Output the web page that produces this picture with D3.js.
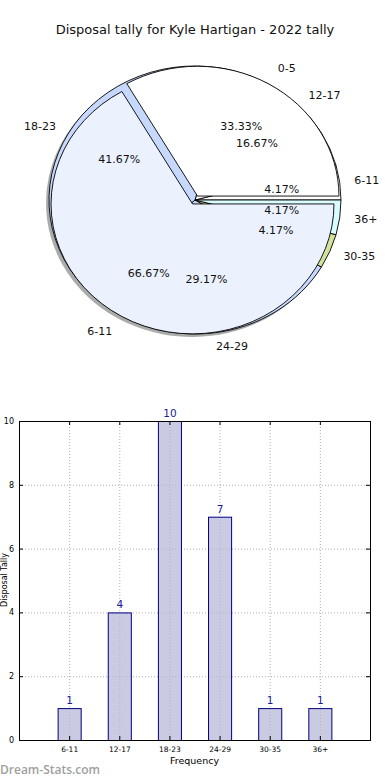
<!DOCTYPE html>
<html>
<head>
<meta charset="utf-8">
<script src="https://cdn.jsdelivr.net/npm/d3@7"></script>
<style>
  html, body { margin:0; padding:0; background:#fff; }
  svg { display:block; font-family:"DejaVu Sans", sans-serif; }
</style>
</head>
<body>
<svg id="chart" width="390" height="780"></svg>
<script>
// ---- data ----
const groups = ['6-11','12-17','18-23','24-29','30-35','36+'];
const tally  = [1, 4, 10, 7, 1, 1];
// second (overlaid) pie, as in the original image
const overLabels = ['0-5','6-11'];
const overValues = [8, 16];

const ringColors = ['#ffffff','#ffffff','#c6d9fc','#c6d9fc','#d3e29b','#d9fcfc'];
const overColors = ['#ffffff','#ebf1fd'];

const svg = d3.select('#chart');

svg.append('text')
  .attr('x', 195).attr('y', 34)
  .attr('text-anchor','middle')
  .attr('font-size', 13)
  .attr('fill', '#111')
  .text('Disposal tally for Kyle Hartigan - 2022 tally');

/* ---------- pie ---------- */
const cx = 195, cy = 200, rx = 146, ry = 134;
const pie = d3.pie().sort(null)
  .startAngle(Math.PI/2).endAngle(Math.PI/2 - 2*Math.PI); // ccw from east

const fmt = v => v.toFixed(2) + '%';

function drawPie(values, labels, colors, radius, explode, shadow){
  const total = d3.sum(values);
  const arcs = pie(values);
  const arc = d3.arc().innerRadius(0).outerRadius(radius);
  const g = svg.append('g');
  const mid = a => (a.startAngle + a.endAngle)/2;
  const off = a => [Math.sin(mid(a))*explode, -Math.cos(mid(a))*explode];

  if (shadow) {
    g.selectAll('path.sh').data(arcs).join('path')
      .attr('class','sh')
      .attr('transform', a => { const o = off(a); return `translate(${cx + o[0]*rx - 3},${cy + o[1]*ry + 3}) scale(${rx},${ry})`; })
      .attr('d', arc)
      .attr('fill', '#444').attr('fill-opacity', 0.45);
  }

  g.selectAll('path.w').data(arcs).join('path')
    .attr('class','w')
    .attr('transform', a => { const o = off(a); return `translate(${cx + o[0]*rx},${cy + o[1]*ry}) scale(${rx},${ry})`; })
    .attr('d', arc)
    .attr('fill', (a,i) => colors[i])
    .attr('stroke', '#000')
    .attr('stroke-width', 0.9)
    .attr('vector-effect', 'non-scaling-stroke');

  return arcs.map((a,i) => {
    const m = mid(a), o = off(a);
    const ux = Math.sin(m), uy = -Math.cos(m);
    return {
      label: labels[i],
      pct: fmt(values[i] / total * 100),
      lx: cx + (o[0] + ux*1.1)*rx, ly: cy + (o[1] + uy*1.1)*ry,
      px: cx + (o[0] + ux*0.6)*rx, py: cy + (o[1] + uy*0.6)*ry,
      anchor: ux > 0 ? 'start' : 'end'
    };
  });
}

const ringText = drawPie(tally, groups, ringColors, 1, 0, true);
const overText = drawPie(overValues, overLabels, overColors, 0.969, 0.034, false);

const allText = ringText.concat(overText);
const tg = svg.append('g').attr('font-size', 11).attr('fill', '#111');
tg.selectAll('text.l').data(allText).join('text')
  .attr('class','l')
  .attr('x', d => d.lx).attr('y', d => d.ly)
  .attr('text-anchor', d => d.anchor)
  .attr('dominant-baseline', 'central')
  .text(d => d.label);
tg.selectAll('text.p').data(allText).join('text')
  .attr('class','p')
  .attr('x', d => d.px).attr('y', d => d.py)
  .attr('text-anchor', 'middle')
  .attr('dominant-baseline', 'central')
  .text(d => d.pct);

/* ---------- bars ---------- */
const L = 19, R = 370, T = 421, B = 740;
const x = d3.scaleLinear().domain([-1, 6]).range([L, R]);
const y = d3.scaleLinear().domain([0, 10]).range([B, T]);
const bw = x(0.46) - x(0);
const yTicks = [0, 2, 4, 6, 8, 10];

const grid = svg.append('g').attr('stroke', '#b0b0b0').attr('stroke-dasharray', '1,2').attr('stroke-width', 1);
grid.selectAll('line.h').data(yTicks).join('line')
  .attr('x1', L).attr('x2', R).attr('y1', d => y(d) + 0.5).attr('y2', d => y(d) + 0.5);
grid.selectAll('line.v').data(groups).join('line')
  .attr('x1', (d,i) => x(i) + 0.5).attr('x2', (d,i) => x(i) + 0.5).attr('y1', T).attr('y2', B);

svg.append('g').selectAll('rect').data(tally).join('rect')
  .attr('x', (d,i) => x(i) - bw/2 + 0.5)
  .attr('y', d => y(d) + 0.5)
  .attr('width', bw)
  .attr('height', d => B - y(d))
  .attr('fill', '#b3b3d6').attr('fill-opacity', 0.7)
  .attr('stroke', '#000080').attr('stroke-width', 1);

svg.append('g').selectAll('text').data(tally).join('text')
  .attr('x', (d,i) => x(i) + 0.5)
  .attr('y', d => y(d) - 4)
  .attr('text-anchor', 'middle')
  .attr('font-size', 10.5)
  .attr('fill', '#1a1a9a')
  .text(d => d);

// axes
const yAxisL = d3.axisLeft(y).tickValues(yTicks).tickSize(-4).tickPadding(5).tickFormat(d3.format('d'));
const yAxisR = d3.axisRight(y).tickValues(yTicks).tickSize(-4).tickFormat('');
const xAxisB = d3.axisBottom(x).tickValues(d3.range(groups.length)).tickSize(-4).tickPadding(7).tickFormat(i => groups[i]);
const xAxisT = d3.axisTop(x).tickValues(d3.range(groups.length)).tickSize(-4).tickFormat('');

function styleAxis(g, fs){
  g.select('.domain').remove();
  g.selectAll('line').attr('stroke', '#000');
  g.selectAll('text').attr('font-size', fs).attr('fill', '#000').attr('font-family', '"DejaVu Sans", sans-serif');
}
svg.append('g').attr('transform', `translate(${L},0)`).call(yAxisL).call(g => styleAxis(g, 8));
svg.append('g').attr('transform', `translate(${R},0)`).call(yAxisR).call(g => styleAxis(g, 8));
svg.append('g').attr('transform', `translate(0,${B})`).call(xAxisB).call(g => styleAxis(g, 7.5));
svg.append('g').attr('transform', `translate(0,${T})`).call(xAxisT).call(g => styleAxis(g, 7.5));

svg.append('rect')
  .attr('x', L + 0.5).attr('y', T + 0.5).attr('width', R - L).attr('height', B - T)
  .attr('fill', 'none').attr('stroke', '#000').attr('stroke-width', 1);

svg.append('text')
  .attr('x', (L + R)/2).attr('y', 764)
  .attr('text-anchor', 'middle').attr('font-size', 9.5).attr('fill', '#000')
  .text('Frequency');

svg.append('text')
  .attr('transform', 'translate(7,580) rotate(-90)')
  .attr('text-anchor', 'middle').attr('font-size', 8).attr('fill', '#000')
  .text('Disposal Tally');

svg.append('text')
  .attr('x', 0).attr('y', 774)
  .attr('font-size', 12).attr('font-weight', 600).attr('fill', '#a0a0a0')
  .attr('font-family', '"Open Sans", sans-serif')
  .text('Dream-Stats.com');
</script>
</body>
</html>
